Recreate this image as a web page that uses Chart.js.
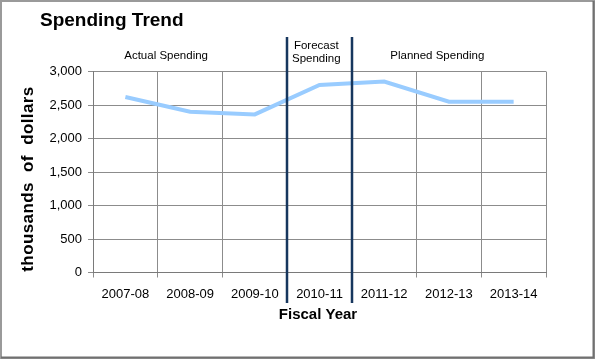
<!DOCTYPE html>
<html>
<head>
<meta charset="utf-8">
<script src="https://cdn.jsdelivr.net/npm/chart.js@4.4.0/dist/chart.umd.min.js"></script>
<style>
  html, body { margin: 0; padding: 0; background: #fff; }
  #wrap { width: 595px; height: 359px; position: relative; }
</style>
</head>
<body>
<div id="wrap"><canvas id="c" width="595" height="359"></canvas></div>
<script>
const categories = ['2007-08', '2008-09', '2009-10', '2010-11', '2011-12', '2012-13', '2013-14'];
const spending = [2620, 2400, 2360, 2800, 2850, 2550, 2550];
const yTicks = [0, 500, 1000, 1500, 2000, 2500, 3000];
const periodLabels = [['Actual Spending'], ['Forecast', 'Spending'], ['Planned Spending']];
const dividers = [2.5, 3.5];
const chartTitle = 'Spending Trend';
const yTitle = 'thousands  of  dollars';
const xTitle = 'Fiscal Year';
const FONT = '"Liberation Sans", Arial, sans-serif';

// label anchors along the category axis (layout, not data)
const labelAnchors = [0.63, 2.95, 4.82];

const decorPlugin = {
  id: 'decor',
  beforeDraw(chart) {
    const ctx = chart.ctx;
    ctx.save();
    ctx.fillStyle = '#ffffff';
    ctx.fillRect(0, 0, chart.width, chart.height);
    ctx.restore();
  },
  afterDraw(chart) {
    const ctx = chart.ctx;
    const xs = chart.scales.x;
    const ys = chart.scales.y;
    ctx.save();
    ctx.strokeStyle = '#17375E';
    ctx.lineWidth = 2.5;
    dividers.forEach(v => {
      const x = Math.round(xs.getPixelForValue(v));
      ctx.beginPath();
      ctx.moveTo(x, 37);
      ctx.lineTo(x, 303);
      ctx.stroke();
    });
    ctx.fillStyle = '#000';
    ctx.font = '11.5px ' + FONT;
    ctx.textAlign = 'center';
    ctx.textBaseline = 'middle';
    periodLabels.forEach((p, i) => {
      const cx = xs.getPixelForValue(labelAnchors[i]);
      if (p.length === 1) {
        ctx.fillText(p[0], cx, 56);
      } else {
        ctx.fillText(p[0], cx, 46);
        ctx.fillText(p[1], cx, 59);
      }
    });
    // chart title
    ctx.font = 'bold 19px ' + FONT;
    ctx.textAlign = 'left';
    ctx.fillText(chartTitle, 40, 21);
    // y-axis title
    ctx.save();
    ctx.translate(28, 179);
    ctx.rotate(-Math.PI / 2);
    ctx.font = 'bold 17px ' + FONT;
    ctx.letterSpacing = '0.4px';
    ctx.textAlign = 'center';
    ctx.fillText(yTitle, 0, 0);
    ctx.restore();
    // x-axis title
    ctx.font = 'bold 15px ' + FONT;
    ctx.textAlign = 'center';
    ctx.fillText(xTitle, 318, 315);
    // frame
    ctx.strokeStyle = '#9a9a9a';
    ctx.lineWidth = 2;
    ctx.strokeRect(1, 1, chart.width - 2, chart.height - 2);
    ctx.strokeStyle = '#707070';
    ctx.beginPath();
    ctx.moveTo(chart.width - 1.5, 1);
    ctx.lineTo(chart.width - 1.5, chart.height - 1.5);
    ctx.lineTo(1, chart.height - 1.5);
    ctx.stroke();
    ctx.restore();
  }
};

new Chart(document.getElementById('c'), {
  type: 'line',
  data: {
    labels: categories,
    datasets: [{
      data: spending,
      borderColor: '#99CCFF',
      borderWidth: 4,
      pointRadius: 0,
      tension: 0,
      fill: false
    }]
  },
  options: {
    responsive: false,
    animation: false,
    devicePixelRatio: 1,
    layout: { padding: { left: 0, right: 49, top: 71.5, bottom: 0 } },
    plugins: { legend: { display: false }, title: { display: false }, tooltip: { enabled: false } },
    scales: {
      x: {
        type: 'category',
        offset: true,
        grid: { offset: true, color: '#8c8c8c', lineWidth: 1, tickLength: 5, drawTicks: true },
        border: { color: '#7a7a7a', width: 1 },
        ticks: { color: '#000', font: { family: FONT, size: 13 }, padding: 9, maxRotation: 0, autoSkip: false },
        afterFit(scale) { scale.height = 86.5; }
      },
      y: {
        min: 0,
        max: 3000,
        afterBuildTicks(scale) { scale.ticks = yTicks.map(v => ({ value: v })); },
        grid: { color: '#8c8c8c', lineWidth: 1, tickLength: 5 },
        border: { color: '#7a7a7a', width: 1 },
        ticks: {
          color: '#000', font: { family: FONT, size: 13 }, padding: 6,
          callback: v => v.toLocaleString('en-US')
        },
        afterFit(scale) { scale.width = 93; }
      }
    }
  },
  plugins: [decorPlugin]
});
</script>
</body>
</html>
